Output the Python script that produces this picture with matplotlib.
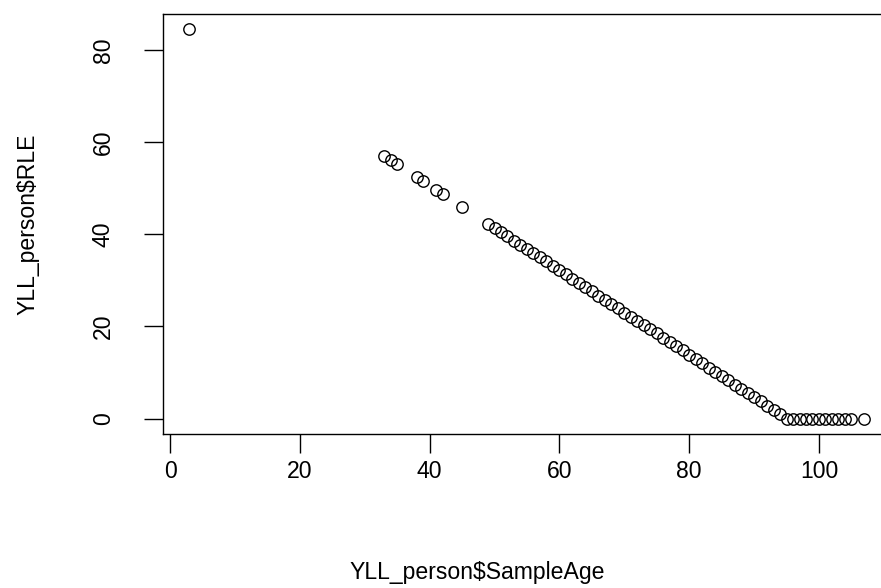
import matplotlib
matplotlib.use("Agg")
import matplotlib.pyplot as plt

# values (YLL_person data frame)
sample_age = [3, 33, 34, 35, 38, 39, 41, 42, 45,
              49, 50, 51, 52, 53, 54, 55, 56, 57, 58, 59,
              60, 61, 62, 63, 64, 65, 66, 67, 68, 69,
              70, 71, 72, 73, 74, 75, 76, 77, 78, 79,
              80, 81, 82, 83, 84, 85, 86, 87, 88, 89,
              90, 91, 92, 93, 94,
              95, 96, 97, 98, 99, 100, 101, 102, 103, 104, 105, 107]
rle = [84.5, 57.0, 56.1, 55.2, 52.4, 51.5, 49.7, 48.7, 46.0,
       42.3, 41.4, 40.5, 39.6, 38.6, 37.7, 36.8, 35.9, 35.0, 34.1, 33.1,
       32.2, 31.3, 30.4, 29.5, 28.5, 27.6, 26.7, 25.8, 24.9, 24.0,
       23.0, 22.1, 21.2, 20.3, 19.4, 18.5, 17.5, 16.6, 15.7, 14.8,
       13.9, 12.9, 12.0, 11.1, 10.2, 9.3, 8.4, 7.4, 6.5, 5.6,
       4.7, 3.8, 2.8, 1.9, 1.0,
       0, 0, 0, 0, 0, 0, 0, 0, 0, 0, 0, 0]

x_ticks = [0, 20, 40, 60, 80, 100]
y_ticks = [0, 20, 40, 60, 80]

plt.rcParams["font.family"] = ["Liberation Sans", "DejaVu Sans"]
FS = 16.6
W, H = 881, 588

fig = plt.figure(figsize=(W / 100, H / 100), dpi=100)
# plot region in pixels (right edge runs past the image, like the screenshot)
left, right, top, bottom = 162.5, 891.4, 13.5, 434.3
ax = fig.add_axes([left / W, (H - bottom) / H, (right - left) / W, (bottom - top) / H])

ax.plot(sample_age, rle, linestyle="none", marker="o", markersize=8.2,
        markerfacecolor="none", markeredgecolor="black", markeredgewidth=1.0)

# R style 4% padding around the data range
xr = max(sample_age) - min(sample_age)
yr = max(rle) - min(rle)
ax.set_xlim(min(sample_age) - 0.04 * xr, max(sample_age) + 0.04 * xr)
ax.set_ylim(min(rle) - 0.04 * yr, max(rle) + 0.04 * yr)

ax.set_xticks(x_ticks)
ax.set_yticks(y_ticks)
for s in ax.spines.values():
    s.set_linewidth(1.0)
ax.tick_params(axis="both", length=13.7, width=1.0, labelsize=FS, color="black")
ax.tick_params(axis="x", pad=4.5)
ax.tick_params(axis="y", pad=20.5)
plt.setp(ax.get_yticklabels(), rotation=90, va="center")

fig.text(477 / W, 1 - 572 / H, "YLL_person$SampleAge", fontsize=FS,
         ha="center", va="center")
fig.text(27.5 / W, 1 - 224 / H, "YLL_person$RLE", fontsize=FS,
         ha="center", va="center", rotation=90)

fig.savefig("out.png", dpi=100)
